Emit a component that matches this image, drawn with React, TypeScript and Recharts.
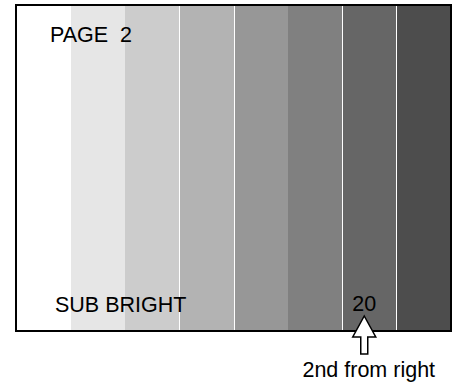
import { BarChart, Bar, XAxis, YAxis, LabelList } from 'recharts';

// eight brightness steps, left (brightest) to right (darkest)
const levels = ['1', '2', '3', '4', '5', '6', '7', '8'];
const heights = [1, 1, 1, 1, 1, 1, 1, 1];
const fills = ['#ffffff', '#e6e6e6', '#cccccc', '#b3b3b3', '#979797', '#808080', '#666666', '#4d4d4d'];
const dividers = [false, false, false, true, true, false, true, true];
const valueLabels = ['', '', '', '', '', '', '20', ''];

const data = levels.map((level, i) => ({
  level,
  value: heights[i],
  fill: fills[i],
  divider: dividers[i],
  label: valueLabels[i],
}));

const FONT = '"Liberation Sans", Arial, Helvetica, sans-serif';
const W = 459;
const H = 382;
const M = { top: 6, right: 9, bottom: 52, left: 17 };

function Stripe(props: any) {
  const { x, y, width, height, payload } = props;
  const lx = Math.round(x) + 0.5;
  return (
    <g>
      <rect x={x} y={y} width={width + 1} height={height} fill={payload.fill} shapeRendering="crispEdges" />
      {payload.divider && (
        <line x1={lx} x2={lx} y1={y} y2={y + height} stroke="#ffffff" strokeWidth={1} />
      )}
    </g>
  );
}

function Frame() {
  return (
    <g>
      <rect
        x={M.left - 1}
        y={M.top - 1}
        width={W - M.left - M.right + 2}
        height={H - M.top - M.bottom + 2}
        fill="none"
        stroke="#000"
        strokeWidth={2}
      />
      <text x={50} y={42} fontFamily={FONT} fontSize={21.5} fill="#000" style={{ whiteSpace: 'pre' }}>
        {'PAGE  2'}
      </text>
      <text x={55} y={312} fontFamily={FONT} fontSize={21.5} fill="#000">
        SUB BRIGHT
      </text>
    </g>
  );
}

// frame and titles ride on the first label; the current value gets the pointer
function Marker(props: any) {
  const { x, y, width, height, value, index } = props;
  const cx = Number(x) + Number(width) / 2;
  const ax = cx - 4.5;
  const bottom = Number(y) + Number(height);
  const tip = bottom - 14;
  const arrow = [
    [ax, tip],
    [ax + 11.5, tip + 21],
    [ax + 3.5, tip + 21],
    [ax + 3.5, tip + 38],
    [ax - 3.5, tip + 38],
    [ax - 3.5, tip + 21],
    [ax - 11.5, tip + 21],
  ]
    .map((p) => p.join(','))
    .join(' ');
  return (
    <g>
      {index === 0 && <Frame />}
      {value ? (
        <g>
          <text x={ax} y={bottom - 19} textAnchor="middle" fontFamily={FONT} fontSize={21.5} fill="#000">
            {value}
          </text>
          <polygon points={arrow} fill="#fff" stroke="#000" strokeWidth={1.5} strokeLinejoin="miter" />
          <text x={cx} y={bottom + 47} textAnchor="middle" fontFamily={FONT} fontSize={21.5} fill="#000">
            2nd from right
          </text>
        </g>
      ) : null}
    </g>
  );
}

export default function App() {
  return (
    <div style={{ position: 'absolute', left: 0, top: 0, width: W, height: H, background: '#fff' }}>
      <BarChart width={W} height={H} data={data} margin={M} barCategoryGap={0} barGap={0}>
        <XAxis dataKey="level" hide />
        <YAxis hide domain={[0, 1]} />
        <Bar dataKey="value" isAnimationActive={false} shape={Stripe}>
          <LabelList dataKey="label" content={Marker} />
        </Bar>
      </BarChart>
    </div>
  );
}
